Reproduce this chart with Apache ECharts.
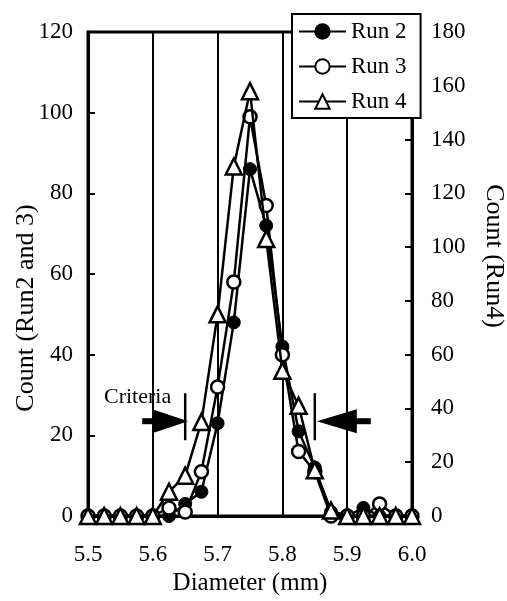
<!DOCTYPE html>
<html><head><meta charset="utf-8">
<script src="https://cdn.jsdelivr.net/npm/echarts@6/dist/echarts.min.js"></script>
<style>html,body{margin:0;padding:0;background:#fff}#c{width:507px;height:601px}</style>
</head><body><div id="c"></div>
<script>
const diameters = [5.5,5.525,5.55,5.575,5.6,5.625,5.65,5.675,5.7,5.725,5.75,5.775,5.8,5.825,5.85,5.875,5.9,5.925,5.95,5.975,6.0];
const run2 = [0,0,0,0,0,0,3,6,23,48,86,72,42,21,12,1,0,2,0,0,0];
const run3 = [0,0,0,0,0,2,1,11,32,58,99,77,40,16,11,0,0,0,3,0,0];
const run4 = [0,0,0,0,0,9,15,35,75,130,158,103,54,41,17,2,0,0,0,0,0];
const seriesNames = ['Run 2','Run 3','Run 4'];
const criteria = [5.65, 5.85];
const criteriaLevel = 23.5;
const xName = 'Diameter (mm)';
const yLeftName = 'Count (Run2 and 3)';
const yRightName = 'Count (Run4)';

const FONT = 'Liberation Serif';
const chart = echarts.init(document.getElementById('c'), null, {renderer:'canvas'});
const zip = arr => diameters.map((d,i)=>[d, arr[i]]);
const baseLine = {color:'#000', width:2.5};

chart.setOption({
  animation:false,
  backgroundColor:'#fff',
  grid:{left:88,right:95,top:32,bottom:85,show:true,borderColor:'#000',borderWidth:3,backgroundColor:'transparent'},
  legend:{
    data:seriesNames, orient:'vertical', left:292, top:14,
    padding:[6,14,5,6], itemWidth:47, itemHeight:18, itemGap:12, itemTextGap:8,
    borderColor:'#000', borderWidth:2, backgroundColor:'#fff',
    textStyle:{fontFamily:FONT,fontSize:23,color:'#000'}, z:10
  },
  xAxis:{
    type:'value', min:5.5, max:6.0, interval:0.1,
    axisLine:{lineStyle:{color:'#000',width:3}},
    axisTick:{show:false},
    axisLabel:{formatter:v=>v.toFixed(1), fontFamily:FONT, fontSize:23, color:'#000', margin:27},
    splitLine:{show:true, lineStyle:{color:'#000', width:2}}
  },
  yAxis:[
    {type:'value', position:'left', min:0, max:120, interval:20,
     axisLine:{show:true,lineStyle:{color:'#000',width:3}},
     axisTick:{show:true,inside:true,length:7,lineStyle:{color:'#000',width:2}},
     axisLabel:{fontFamily:FONT,fontSize:23,color:'#000',margin:15},
     splitLine:{show:false}},
    {type:'value', position:'right', min:0, max:180, interval:20,
     axisLine:{show:true,lineStyle:{color:'#000',width:3}},
     axisTick:{show:true,inside:true,length:7,lineStyle:{color:'#000',width:2}},
     axisLabel:{fontFamily:FONT,fontSize:23,color:'#000',margin:19},
     splitLine:{show:false}}
  ],
  series:[
    {name:seriesNames[0], type:'line', yAxisIndex:0, data:zip(run2), symbol:'circle', symbolSize:13,
     lineStyle:baseLine, itemStyle:{color:'#000',borderColor:'#000',borderWidth:1}, z:3},
    {name:seriesNames[1], type:'line', yAxisIndex:0, data:zip(run3), symbol:'circle', symbolSize:13,
     lineStyle:baseLine, itemStyle:{color:'#fff',borderColor:'#000',borderWidth:2.5}, z:4},
    {name:seriesNames[2], type:'line', yAxisIndex:1, data:zip(run4), symbol:'triangle', symbolSize:16,
     lineStyle:baseLine, itemStyle:{color:'#fff',borderColor:'#000',borderWidth:2.5}, z:5}
  ]
});

const c1 = chart.convertToPixel({xAxisIndex:0,yAxisIndex:0},[criteria[0],criteriaLevel]);
const c2 = chart.convertToPixel({xAxisIndex:0,yAxisIndex:0},[criteria[1],criteriaLevel]);
const blk = {fill:'#000'};
chart.setOption({graphic:[
  {type:'line', shape:{x1:c1[0],y1:c1[1]-28,x2:c1[0],y2:c1[1]+19}, style:{stroke:'#000',lineWidth:2.5}, z:20},
  {type:'polygon', shape:{points:[[c1[0]+3,c1[1]],[c1[0]-33,c1[1]-12],[c1[0]-33,c1[1]+12]]}, style:blk, z:20},
  {type:'rect', shape:{x:c1[0]-43,y:c1[1]-3,width:11,height:6}, style:blk, z:20},
  {type:'line', shape:{x1:c2[0],y1:c2[1]-28,x2:c2[0],y2:c2[1]+19}, style:{stroke:'#000',lineWidth:2.5}, z:20},
  {type:'polygon', shape:{points:[[c2[0]+2,c2[1]],[c2[0]+42,c2[1]-12],[c2[0]+42,c2[1]+12]]}, style:blk, z:20},
  {type:'rect', shape:{x:c2[0]+41,y:c2[1]-3,width:15,height:6}, style:blk, z:20},
  {type:'text', x:c1[0]-14, y:c1[1]-24, style:{text:'Criteria', fontFamily:FONT, fontSize:22, fill:'#000', align:'right', verticalAlign:'middle'}, z:20},
  {type:'text', x:26, y:308, rotation:Math.PI/2, style:{text:yLeftName, fontFamily:FONT, fontSize:26, fill:'#000', align:'center', verticalAlign:'middle'}},
  {type:'text', x:494, y:256, rotation:-Math.PI/2, style:{text:yRightName, fontFamily:FONT, fontSize:26, fill:'#000', align:'center', verticalAlign:'middle'}},
  {type:'text', x:250, y:583, style:{text:xName, fontFamily:FONT, fontSize:25, fill:'#000', align:'center', verticalAlign:'middle'}}
]});
</script></body></html>
